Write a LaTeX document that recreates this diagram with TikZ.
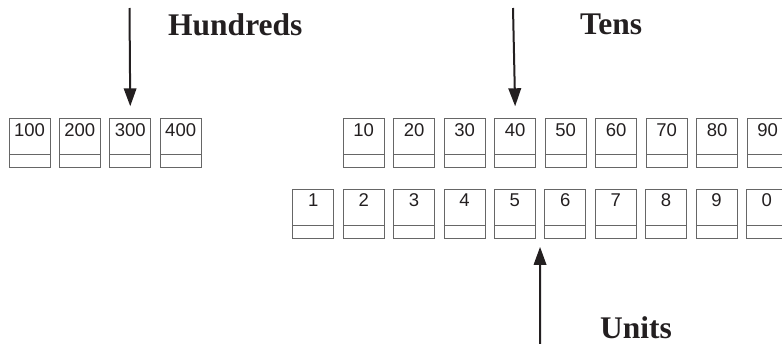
\documentclass[tikz,border=0pt]{standalone}
\usepackage{fontspec}
\setmainfont{Liberation Serif}
\setsansfont{Liberation Sans}
\usetikzlibrary{arrows.meta,calc}
\definecolor{boxgray}{gray}{0.40}
\definecolor{ink}{RGB}{35,31,32}
\tikzset{
  cell/.style={draw=boxgray, line width=0.9pt, anchor=north west,
    minimum width=41pt, minimum height=49pt, inner sep=0pt,
    text height=17.5pt, text depth=31.5pt, text=ink,
    font=\sffamily\fontsize{18.5}{18.5}\selectfont,
    path picture={\draw[boxgray, line width=0.9pt]
      ([yshift=13pt]path picture bounding box.south west) --
      ([yshift=13pt]path picture bounding box.south east);}},
  heading/.style={anchor=base west, inner sep=0pt, text=ink, text depth=0pt,
    font=\bfseries\fontsize{31.5}{31.5}\selectfont},
  pointer/.style={draw=ink, line width=2pt,
    -{Triangle[length=18pt,width=12.5pt]}}
}
\begin{document}
\begin{tikzpicture}[x=1pt,y=-1pt]
\useasboundingbox (0,0) rectangle (782,343);
\clip (0,0) rectangle (782,343);

% hundreds row
\foreach \v [count=\i from 0] in {100,200,300,400}
  \node[cell] (h\i) at (8.5+\i*50.4,118.3) {\v};
% tens row
\foreach \v [count=\i from 0] in {10,20,30,40,50,60,70,80,90}
  \node[cell] (t\i) at (342.7+\i*50.5,118.3) {\v};
% units row
\foreach \v [count=\i from 0] in {1,2,3,4,5,6,7,8,9,0}
  \node[cell] (u\i) at (292.3+\i*50.4,189) {\v};

% headings
\node[heading] (lh) at (168,35) {Hundreds};
\node[heading] (lt) at (580,34.3) {Tens};
\node[heading] (lu) at (600,338.5) {Units};

% pointers
\coordinate (hs) at (129.5,8);
\coordinate (ts) at (513,8);
\coordinate (us) at (540,345);
\coordinate (ue) at ($(u4.south east)!0.5!(u5.south west)$);
\draw[pointer] (hs) -- ([yshift=12pt]h2.north);
\draw[pointer] (ts) -- ([yshift=12pt]t3.north);
\draw[pointer] (us) -- ([yshift=-8pt]ue);
\end{tikzpicture}
\end{document}
